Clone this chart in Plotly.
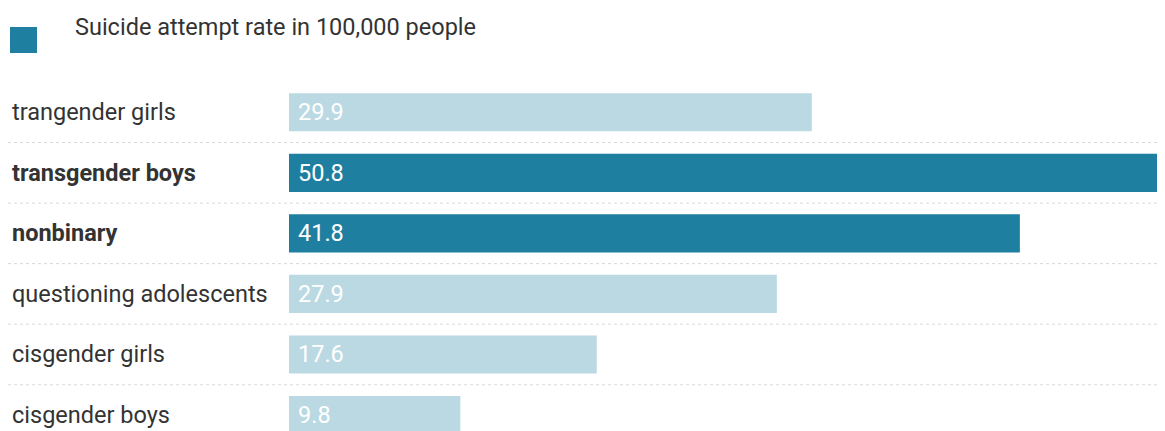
import plotly.graph_objects as go

categories = ["trangender girls", "transgender boys", "nonbinary",
              "questioning adolescents", "cisgender girls", "cisgender boys"]
values = [29.9, 50.8, 41.8, 27.9, 17.6, 9.8]
highlight = [False, True, True, False, False, False]
legend_label = "Suicide attempt rate in 100,000 people"

DARK = "#1f7fa0"
LIGHT = "#bbd9e2"
OFF = 8  # default page body margin
W, H = 1165 - OFF, 431 - OFF
TOP = 82 - OFF
ph = H - TOP
FS = 23.5

ypos = list(range(len(categories)))
colors = [DARK if h else LIGHT for h in highlight]

fig = go.Figure(go.Bar(
    x=values, y=ypos, orientation="h", width=0.63,
    marker=dict(color=colors, line=dict(width=0)),
    hoverinfo="skip", showlegend=False,
))

annotations = []
for i, (c, v, h) in enumerate(zip(categories, values, highlight)):
    annotations.append(dict(
        x=(10 - OFF) / W, xref="paper", y=i, yref="y", text=f"<b>{c}</b>" if h else c,
        xanchor="left", yanchor="middle", showarrow=False,
        font=dict(family="Roboto", size=FS, color="#333333")))
    annotations.append(dict(
        x=0, xref="x", xshift=7, y=i, yref="y", text=f"{v}",
        xanchor="left", yanchor="middle", showarrow=False,
        font=dict(family="Roboto", size=FS, color="#ffffff")))

annotations.append(dict(
    x=(73 - OFF) / W, xref="paper", y=(H - (27 - OFF)) / ph, yref="paper",
    text=legend_label,
    xanchor="left", yanchor="middle", showarrow=False,
    font=dict(family="Roboto", size=FS, color="#333333")))

shapes = [dict(type="rect", xref="paper", yref="paper",
               x0=(10 - OFF) / W, x1=(37 - OFF) / W,
               y0=(H - (53 - OFF)) / ph, y1=(H - (27 - OFF)) / ph,
               fillcolor=DARK, line=dict(width=0))]
for i in range(len(categories) - 1):
    shapes.append(dict(type="line", xref="paper", yref="y", x0=0, x1=1,
                       y0=i + 0.5, y1=i + 0.5,
                       line=dict(color="#d9d9d9", width=1, dash="dot"), layer="below"))

fig.update_layout(
    width=W, height=H,
    margin=dict(l=0, r=0, t=TOP, b=0),
    plot_bgcolor="white", paper_bgcolor="white",
    xaxis=dict(domain=[(289 - OFF) / W, 1], range=[0, 50.1], visible=False, fixedrange=True),
    yaxis=dict(range=[(431 - 112) / 60.6, -0.5], visible=False, fixedrange=True),
    annotations=annotations, shapes=shapes,
    bargap=0.37,
)

fig.write_html("out.html")
